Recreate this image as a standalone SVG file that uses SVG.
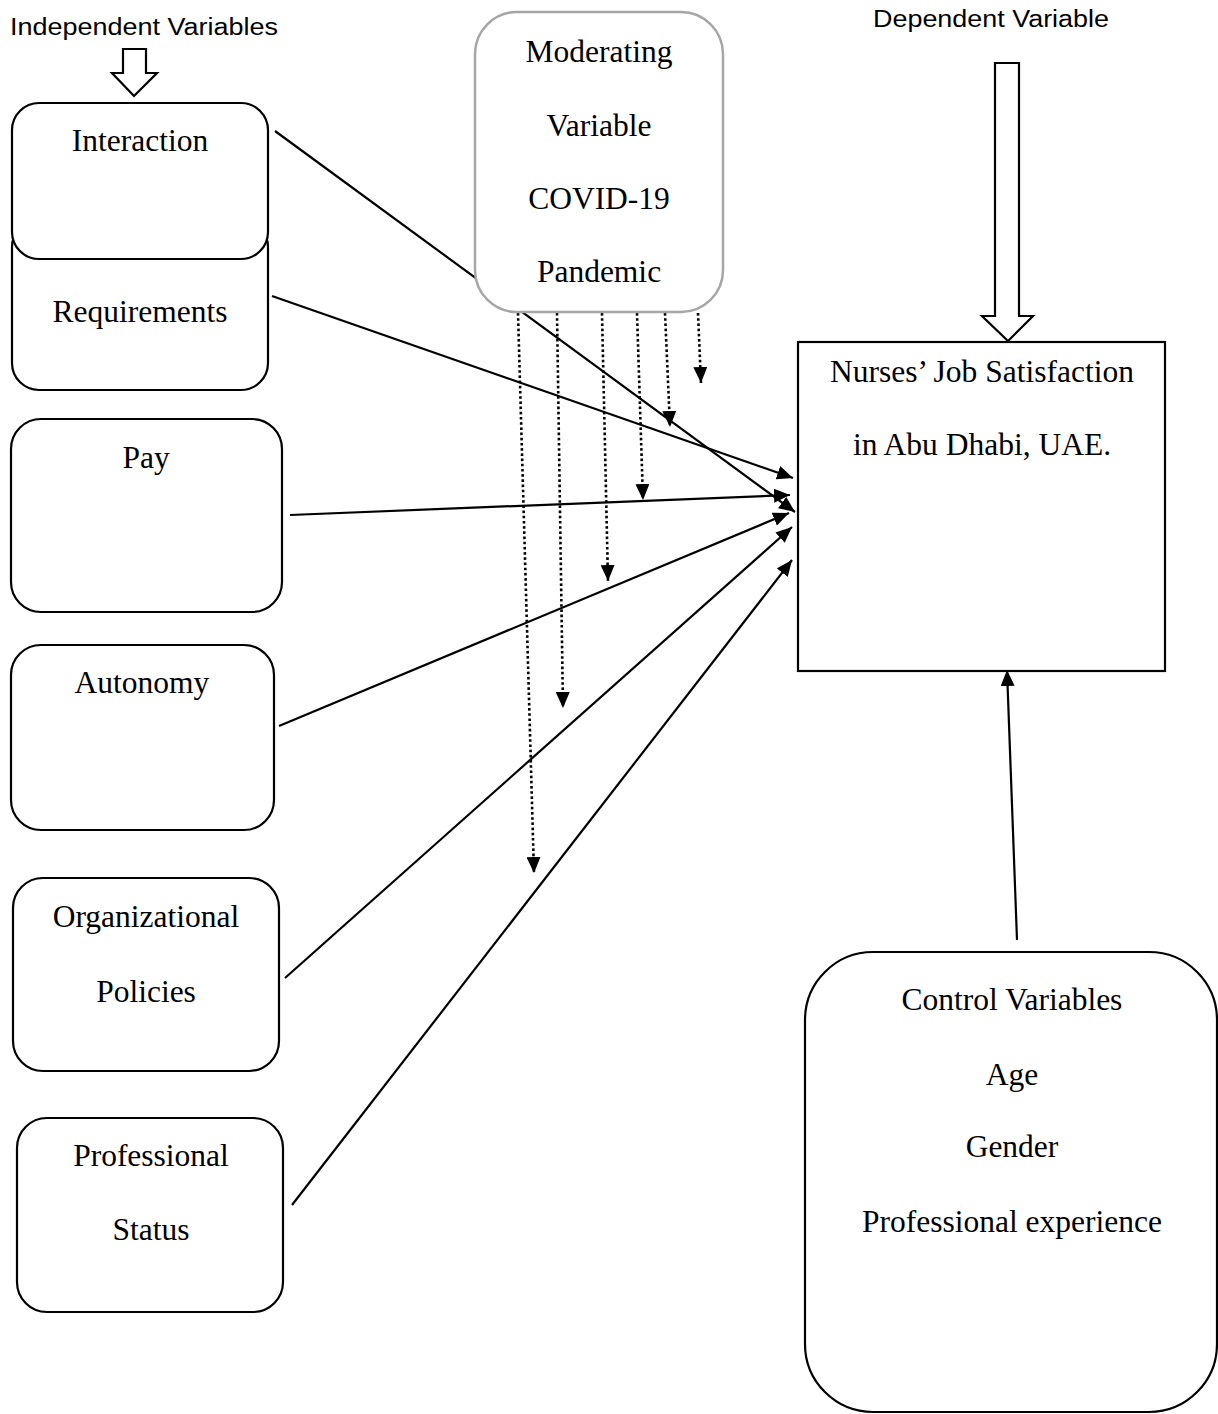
<svg xmlns="http://www.w3.org/2000/svg" width="1218" height="1414" viewBox="0 0 1218 1414">
<style>
.box{fill:#fff;stroke:#000;stroke-width:2.2}
.mod{fill:#fff;stroke:#a6a6a6;stroke-width:2.5}
.t{font-family:"Liberation Serif","Times New Roman",serif;font-size:31.5px;fill:#000;text-anchor:middle}
.s{font-family:"Liberation Sans",Arial,sans-serif;font-size:23.5px;fill:#000}
.hollow{fill:#fff;stroke:#000;stroke-width:2.2;stroke-linejoin:miter}
.solid{stroke:#000;stroke-width:2.2;fill:none;marker-end:url(#ah)}
.dot{stroke:#000;stroke-width:2.6;fill:none;stroke-dasharray:2.6 2.6;marker-end:url(#ah)}
</style>
<defs>
<marker id="ah" markerUnits="userSpaceOnUse" markerWidth="18" markerHeight="14" refX="16" refY="7" orient="auto">
<path d="M0,0 L16,7 L0,14 z" fill="#000" stroke="none"/>
</marker>
</defs>
<rect width="1218" height="1414" fill="#fff"/>

<g id="labels">
<text class="s" x="10" y="35" textLength="268" lengthAdjust="spacingAndGlyphs">Independent Variables</text>
<polygon class="hollow" points="123,49 146,49 146,73 157,73 134,96 112,73 123,73"/>
<text class="s" x="873" y="27" textLength="236" lengthAdjust="spacingAndGlyphs">Dependent Variable</text>
<polygon class="hollow" points="995,63 1019,63 1019,316 1033,316 1008,341 982,316 995,316"/>
</g>

<g id="connectors">
<line class="solid" x1="275" y1="131" x2="795" y2="512"/>
<line class="solid" x1="272" y1="296" x2="793" y2="478"/>
<line class="solid" x1="290" y1="515" x2="790" y2="495"/>
<line class="solid" x1="279" y1="726" x2="789" y2="513"/>
<line class="solid" x1="285" y1="978" x2="792" y2="527"/>
<line class="solid" x1="292" y1="1205" x2="792" y2="560"/>
<line class="solid" x1="1017" y1="940" x2="1007" y2="670"/>
<line class="dot" x1="518" y1="313" x2="534" y2="873"/>
<line class="dot" x1="557" y1="313" x2="563" y2="708"/>
<line class="dot" x1="602" y1="313" x2="608" y2="581"/>
<line class="dot" x1="637" y1="313" x2="643" y2="500"/>
<line class="dot" x1="665" y1="313" x2="670" y2="427"/>
<line class="dot" x1="698" y1="313" x2="701" y2="383"/>
</g>

<g id="requirements">
<rect class="box" x="12" y="220" width="256" height="170" rx="27"/>
<text class="t" x="140" y="322">Requirements</text>
</g>
<g id="interaction">
<rect class="box" x="12" y="103" width="256" height="156" rx="27"/>
<text class="t" x="140" y="151">Interaction</text>
</g>
<g id="pay">
<rect class="box" x="11" y="419" width="271" height="193" rx="30"/>
<text class="t" x="146" y="468">Pay</text>
</g>
<g id="autonomy">
<rect class="box" x="11" y="645" width="263" height="185" rx="30"/>
<text class="t" x="142" y="693">Autonomy</text>
</g>
<g id="organizational">
<rect class="box" x="13" y="878" width="266" height="193" rx="30"/>
<text class="t" x="146" y="927">Organizational</text>
<text class="t" x="146" y="1002">Policies</text>
</g>
<g id="professional">
<rect class="box" x="17" y="1118" width="266" height="194" rx="30"/>
<text class="t" x="151" y="1166">Professional</text>
<text class="t" x="151" y="1240">Status</text>
</g>
<g id="moderating">
<rect class="mod" x="475" y="12" width="248" height="300" rx="42"/>
<text class="t" x="599" y="62">Moderating</text>
<text class="t" x="599" y="136">Variable</text>
<text class="t" x="599" y="209">COVID-19</text>
<text class="t" x="599" y="282">Pandemic</text>
</g>
<g id="nurses">
<rect class="box" x="798" y="342" width="367" height="329"/>
<text class="t" x="982" y="382">Nurses’ Job Satisfaction</text>
<text class="t" x="982" y="455">in Abu Dhabi, UAE.</text>
</g>
<g id="control">
<rect class="box" x="805" y="952" width="412" height="460" rx="68"/>
<text class="t" x="1012" y="1010">Control Variables</text>
<text class="t" x="1012" y="1085">Age</text>
<text class="t" x="1012" y="1157">Gender</text>
<text class="t" x="1012" y="1232">Professional experience</text>
</g>
</svg>
